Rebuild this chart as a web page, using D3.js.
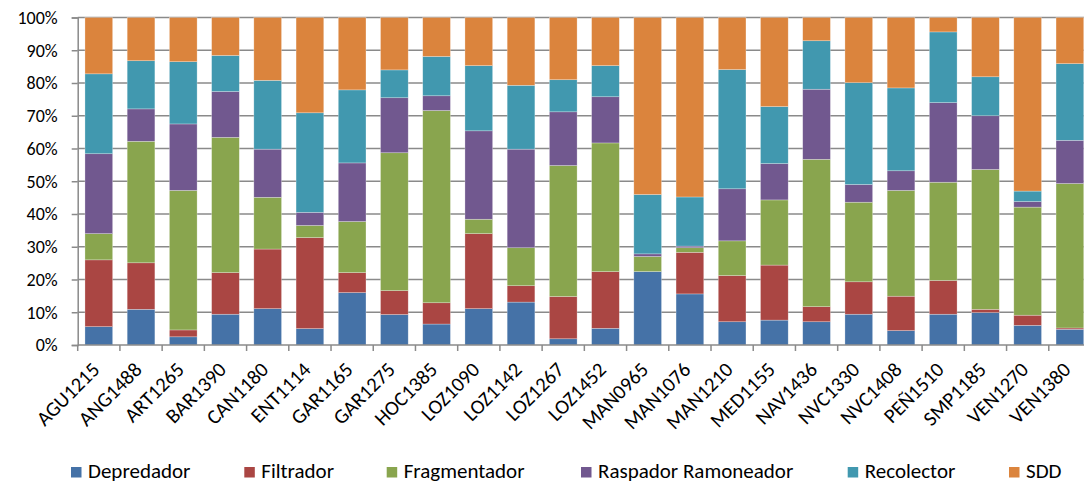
<!DOCTYPE html>
<html>
<head>
<meta charset="utf-8">
<script src="https://cdn.jsdelivr.net/npm/d3@7"></script>
<style>
  body { margin: 0; background: #fff; }
  svg { display: block; font-family: Carlito, Lato, "Open Sans", sans-serif; }
</style>
</head>
<body>
<div id="chart-area"></div>
<script>
let categories = ["AGU1215","ANG1488","ART1265","BAR1390","CAN1180","ENT1114","GAR1165","GAR1275",
  "HOC1385","LOZ1090","LOZ1142","LOZ1267","LOZ1452","MAN0965","MAN1076","MAN1210","MED1155",
  "NAV1436","NVC1330","NVC1408","PEÑ1510","SMP1185","VEN1270","VEN1380"];
let seriesNames = ["Depredador","Filtrador","Fragmentador","Raspador Ramoneador","Recolector","SDD"];
let depredador   = [5.6,10.9,2.5,9.4,11.1,5.0,16.0,9.3,6.4,11.1,13.1,1.9,5.1,22.4,15.6,7.1,7.6,7.1,9.4,4.4,9.4,9.9,6.0,4.8];
let filtrador    = [20.4,14.2,2.1,12.7,18.2,27.8,6.1,7.3,6.5,22.9,5.0,12.9,17.3,0.0,12.7,14.1,16.8,4.6,9.9,10.5,10.3,1.0,3.1,0.4];
let fragmentador = [8.0,37.1,42.6,41.3,15.8,3.7,15.6,42.1,58.7,4.4,11.6,40.0,39.3,4.6,1.4,10.6,19.9,45.0,24.3,32.3,30.0,42.7,33.0,44.1];
let raspador     = [24.4,9.9,20.3,14.0,14.7,4.0,17.9,16.8,4.5,27.0,30.1,16.4,14.1,0.8,0.5,15.9,11.1,21.4,5.4,6.0,24.3,16.4,1.7,13.2];
let recolector   = [24.4,14.7,19.0,11.0,21.0,30.4,22.3,8.5,12.0,19.9,19.5,9.8,9.5,18.1,15.0,36.4,17.4,14.8,31.1,25.3,21.6,11.9,3.2,23.4];
let sdd          = [17.2,13.2,13.5,11.6,19.2,29.1,22.1,16.0,11.9,14.7,20.7,19.0,14.7,54.0,54.8,15.9,27.2,7.1,19.9,21.5,4.4,18.1,53.0,14.1];
let yTicks = [0,10,20,30,40,50,60,70,80,90,100];
let colors = ["#4572A7","#AA4643","#89A54E","#71588F","#4198AF","#DB843D"];

let W = 1084, H = 483;
let margin = {left: 77.7, right: 1091, top: 17.5, bottom: 345};

let svg = d3.select("#chart-area").append("svg")
  .attr("width", W).attr("height", H);

// build rows for the stack, normalised to 100%
let allSeries = [depredador, filtrador, fragmentador, raspador, recolector, sdd];
let rows = categories.map(function(c, i){
  let row = {cat: c};
  let total = d3.sum(allSeries, s => s[i]);
  seriesNames.forEach(function(n, k){ row[n] = allSeries[k][i] / total * 100; });
  return row;
});
let stacked = d3.stack().keys(seriesNames)(rows);

let x = d3.scaleBand().domain(categories).range([margin.left, margin.right])
  .paddingInner(0.344).paddingOuter(0.172);
let y = d3.scaleLinear().domain([0, 100]).range([margin.bottom, margin.top]);

// gridlines
svg.append("g").selectAll("line").data(yTicks.slice(1)).enter().append("line")
  .attr("x1", margin.left).attr("x2", W)
  .attr("y1", d => y(d)).attr("y2", d => y(d))
  .attr("stroke", "#8a8a8a").attr("stroke-width", 1.5);

// bars
svg.append("g").selectAll("g").data(stacked).enter().append("g")
  .attr("fill", (d, i) => colors[i])
  .selectAll("rect").data(d => d).enter().append("rect")
    .attr("x", d => x(d.data.cat))
    .attr("width", x.bandwidth())
    .attr("y", d => y(d[1]))
    .attr("height", d => y(d[0]) - y(d[1]))
    .attr("stroke", "rgba(255,255,255,0.45)")
    .attr("stroke-width", 0.6);

// y axis
let yAxis = d3.axisLeft(y).tickValues(yTicks).tickFormat(d => d + "%").tickSize(6).tickPadding(14);
let gy = svg.append("g").attr("transform", "translate(" + margin.left + ",0)").call(yAxis);
gy.select(".domain").attr("stroke", "#8a8a8a").attr("stroke-width", 1.5);
gy.selectAll(".tick line").attr("stroke", "#8a8a8a").attr("stroke-width", 1.5);
gy.selectAll("text").attr("font-size", "18px").attr("fill", "#000")
  .attr("font-family", "Carlito, Lato, 'Open Sans', sans-serif");

// x axis: ticks at category boundaries
let step = x.step();
let bounds = categories.map(c => x(c) - step * x.paddingInner() / 2);
bounds.push(bounds[bounds.length - 1] + step);
let gx = svg.append("g");
gx.append("line").attr("x1", margin.left).attr("x2", W).attr("y1", margin.bottom).attr("y2", margin.bottom)
  .attr("stroke", "#8a8a8a").attr("stroke-width", 1.5);
gx.selectAll("line.tk").data(bounds).enter().append("line").attr("class", "tk")
  .attr("x1", d => d).attr("x2", d => d).attr("y1", margin.bottom).attr("y2", margin.bottom + 6)
  .attr("stroke", "#8a8a8a").attr("stroke-width", 1.5);
gx.selectAll("text").data(categories).enter().append("text")
  .attr("transform", d => "translate(" + (x(d) + x.bandwidth() / 2 + 2) + "," + (margin.bottom + 26) + ") rotate(-45)")
  .attr("text-anchor", "end")
  .attr("font-size", "20.5px")
  .attr("fill", "#000")
  .text(d => d);

// legend
let legendX = [71, 244.3, 386.7, 581, 847.7, 1009];
let lg = svg.append("g").selectAll("g").data(seriesNames).enter().append("g")
  .attr("transform", (d, i) => "translate(" + legendX[i] + ",467)");
lg.append("rect").attr("width", 10.5).attr("height", 10.5).attr("y", 0)
  .attr("fill", (d, i) => colors[i]);
lg.append("text").attr("x", 17).attr("y", 11).attr("font-size", "21px").attr("fill", "#000")
  .text(d => d);
</script>
</body>
</html>
